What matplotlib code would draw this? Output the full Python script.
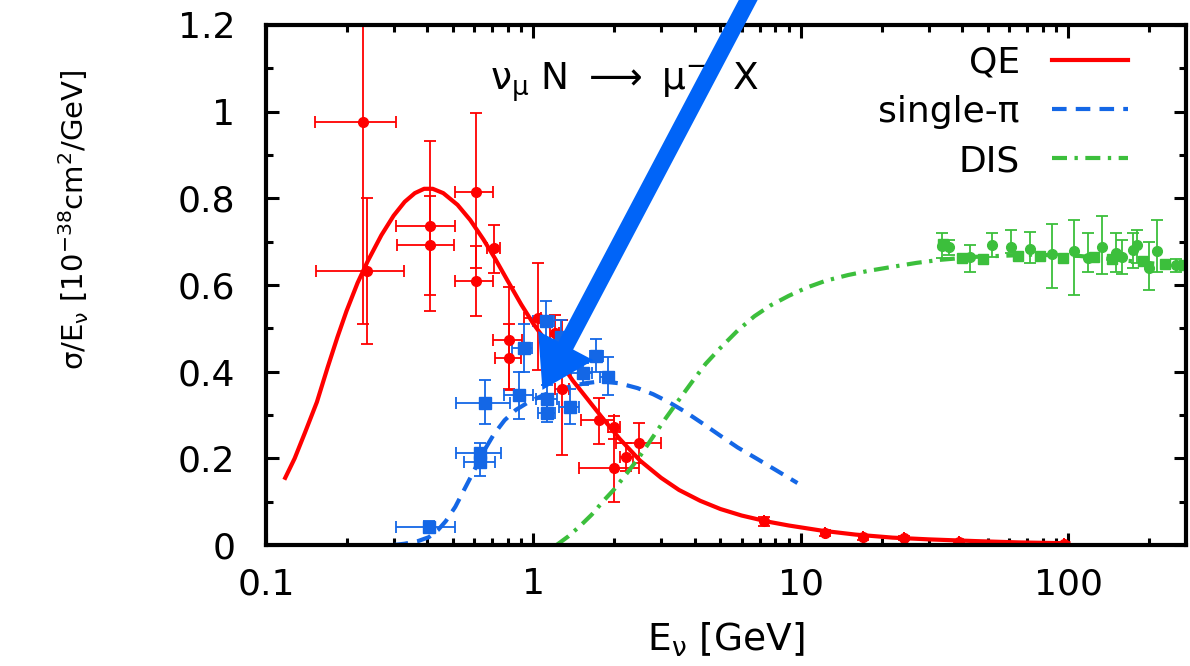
import numpy as np
import matplotlib
matplotlib.use("Agg")
import matplotlib.pyplot as plt
from matplotlib.ticker import MultipleLocator, LogLocator, NullFormatter

plt.rcParams['font.family'] = ['DejaVu Sans']
plt.rcParams['mathtext.default'] = 'regular'

red = '#ff0000'
blue = '#1467e6'
green = '#3cbf3c'
arrow_color = '#0064f8'

# QE calculation (solid red)
qe_x = [0.118, 0.128, 0.14, 0.155, 0.17, 0.185, 0.20, 0.22, 0.24, 0.27, 0.30, 0.33,
        0.36, 0.39, 0.42, 0.46, 0.52, 0.58, 0.65, 0.72, 0.80, 0.90, 1.0, 1.1, 1.25,
        1.4, 1.6, 1.8, 2.1, 2.5, 3.0, 3.5, 4.2, 5.0, 6.0, 7.5, 9.0, 12, 16, 22, 30,
        45, 65, 100]
qe_y = [0.155, 0.2, 0.26, 0.33, 0.41, 0.48, 0.54, 0.605, 0.655, 0.715, 0.76, 0.792,
        0.812, 0.822, 0.822, 0.812, 0.785, 0.75, 0.705, 0.66, 0.61, 0.555, 0.51, 0.475,
        0.425, 0.38, 0.335, 0.295, 0.245, 0.195, 0.155, 0.127, 0.102, 0.083, 0.068,
        0.054, 0.045, 0.033, 0.024, 0.017, 0.013, 0.009, 0.006, 0.004]

# single-pi calculation (dashed blue)
pi_x = [0.30, 0.33, 0.37, 0.406, 0.44, 0.47, 0.51, 0.55, 0.60, 0.65, 0.71, 0.78, 0.86,
        0.96, 1.1, 1.3, 1.55, 1.8, 2.1, 2.45, 2.8, 3.2, 3.7, 4.3, 5.0, 5.8, 6.8, 8.0, 9.7]
pi_y = [0.0, 0.003, 0.009, 0.018, 0.035, 0.055, 0.088, 0.127, 0.172, 0.215, 0.255, 0.288,
        0.312, 0.33, 0.347, 0.362, 0.373, 0.378, 0.373, 0.362, 0.348, 0.33, 0.307, 0.28,
        0.252, 0.225, 0.2, 0.174, 0.143]

# DIS calculation (dash-dot green)
dis_x = [1.22, 1.35, 1.5, 1.65, 1.84, 2.0, 2.25, 2.5, 2.8, 3.1, 3.45, 3.9, 4.4, 5.0,
         5.8, 6.7, 7.7, 9.0, 10.5, 12.4, 15, 18, 22, 27, 33, 45, 73, 110, 160, 275]
dis_y = [0.0, 0.02, 0.045, 0.07, 0.104, 0.128, 0.168, 0.205, 0.25, 0.29, 0.33, 0.375,
         0.418, 0.455, 0.495, 0.528, 0.553, 0.575, 0.594, 0.61, 0.623, 0.633, 0.642,
         0.651, 0.658, 0.665, 0.67, 0.667, 0.657, 0.642]

# QE data: x, y, x range, y range
qe_dx = [0.231, 0.239, 0.41, 0.41, 0.608, 0.608, 0.71, 0.807, 0.807, 1.04, 1.2, 1.28,
         1.75, 2.0, 2.0, 2.22, 2.48, 7.3, 12.3, 17.1, 24.2, 38.9, 96]
qe_dy = [0.976, 0.632, 0.736, 0.692, 0.815, 0.61, 0.685, 0.473, 0.432, 0.524, 0.489, 0.36,
         0.288, 0.272, 0.178, 0.203, 0.235, 0.055, 0.027, 0.018, 0.016, 0.008, 0.002]
qe_xlo = [0.153, 0.154, 0.306, 0.31, 0.508, 0.508, 0.67, 0.703, 0.72, 0.918, 1.15, 1.2,
          1.51, 1.9, 1.48, 2.1, 2.04, 7.3, 12.3, 17.1, 24.2, 38.9, 96]
qe_xhi = [0.306, 0.328, 0.508, 0.505, 0.703, 0.703, 0.75, 0.902, 0.9, 1.07, 1.25, 1.36,
          2.0, 2.1, 2.48, 2.35, 3.0, 7.3, 12.3, 17.1, 24.2, 38.9, 96]
qe_ylo = [0.51, 0.464, 0.54, 0.577, 0.64, 0.528, 0.628, 0.358, 0.36, 0.404, 0.45, 0.208,
          0.233, 0.245, 0.099, 0.17, 0.19, 0.045, 0.02, 0.012, 0.011, 0.004, 0.0]
qe_yhi = [1.30, 0.80, 0.932, 0.805, 0.997, 0.69, 0.738, 0.596, 0.51, 0.65, 0.53, 0.519,
          0.339, 0.298, 0.26, 0.235, 0.282, 0.065, 0.034, 0.024, 0.021, 0.012, 0.005]

# single-pi data
pi_dx = [0.406, 0.63, 0.63, 0.657, 0.88, 0.918, 1.11, 1.27, 1.12, 1.12, 1.37, 1.53, 1.72, 1.9]
pi_dy = [0.042, 0.212, 0.192, 0.328, 0.346, 0.455, 0.517, 0.48, 0.337, 0.305, 0.318, 0.397, 0.436, 0.388]
pi_xlo = [0.306, 0.513, 0.55, 0.513, 0.773, 0.83, 1.0, 1.19, 1.02, 1.04, 1.25, 1.38, 1.62, 1.78]
pi_xhi = [0.508, 0.753, 0.72, 0.82, 1.0, 0.99, 1.19, 1.36, 1.22, 1.2, 1.48, 1.65, 1.82, 2.0]
pi_ylo = [0.03, 0.19, 0.159, 0.279, 0.29, 0.40, 0.468, 0.44, 0.31, 0.285, 0.28, 0.37, 0.40, 0.346]
pi_yhi = [0.055, 0.235, 0.215, 0.381, 0.40, 0.51, 0.563, 0.52, 0.37, 0.325, 0.36, 0.42, 0.475, 0.434]

# DIS data (circles)
dis_dx = [33.6, 35.9, 42.8, 51.7, 60.8, 71.6, 87.1, 105, 118, 134, 151, 159, 174, 181, 200, 214, 253]
dis_dy = [0.69, 0.688, 0.665, 0.692, 0.688, 0.683, 0.672, 0.679, 0.662, 0.688, 0.674, 0.665,
          0.681, 0.692, 0.639, 0.679, 0.646]
dis_ylo = [0.662, 0.67, 0.63, 0.665, 0.674, 0.65, 0.593, 0.577, 0.63, 0.625, 0.63, 0.625,
           0.64, 0.65, 0.588, 0.63, 0.63]
dis_yhi = [0.72, 0.705, 0.692, 0.72, 0.727, 0.722, 0.74, 0.75, 0.72, 0.76, 0.72, 0.705,
           0.72, 0.727, 0.70, 0.75, 0.66]

# DIS data (squares)
dis2_dx = [34, 40, 48, 65, 78, 95, 125, 145, 190, 230, 270]
dis2_dy = [0.694, 0.663, 0.66, 0.667, 0.668, 0.662, 0.665, 0.66, 0.655, 0.648, 0.645]

xtick_vals = [0.1, 1, 10, 100]
xtick_labels = ['0.1', '1', '10', '100']
ytick_vals = [0, 0.2, 0.4, 0.6, 0.8, 1.0, 1.2]
ytick_labels = ['0', '0.2', '0.4', '0.6', '0.8', '1', '1.2']


def err(v, lo, hi):
    v = np.array(v); lo = np.array(lo); hi = np.array(hi)
    return [v - lo, hi - v]


fig = plt.figure(figsize=(11.9, 6.66), dpi=100)
ax = fig.add_axes([266 / 1190, 121 / 666, 920 / 1190, 520 / 666])

eb = dict(elinewidth=1.3, capthick=1.3, capsize=4.5, linestyle='none')
ax.errorbar(qe_dx, qe_dy, xerr=err(qe_dx, qe_xlo, qe_xhi), yerr=err(qe_dy, qe_ylo, qe_yhi),
            marker='o', ms=7, color=red, **eb)
ax.errorbar(pi_dx, pi_dy, xerr=err(pi_dx, pi_xlo, pi_xhi), yerr=err(pi_dy, pi_ylo, pi_yhi),
            marker='s', ms=8, color=blue, **eb)
ax.errorbar(dis_dx, dis_dy, yerr=err(dis_dy, dis_ylo, dis_yhi),
            marker='o', ms=7, color=green, **eb)
ax.plot(dis2_dx, dis2_dy, 's', ms=6.5, color=green)

l_qe, = ax.plot(qe_x, qe_y, color=red, lw=3, label='QE')
l_pi, = ax.plot(pi_x, pi_y, color=blue, lw=3, linestyle=(0, (3.5, 2.2)), label='single-π')
l_dis, = ax.plot(dis_x, dis_y, color=green, lw=3, linestyle=(0, (3.6, 1.8, 0.8, 1.8)), label='DIS')

ax.set_xscale('log')
ax.set_xlim(0.1, 275)
ax.set_ylim(0, 1.2)
ax.set_xticks(xtick_vals)
ax.set_xticklabels(xtick_labels)
ax.xaxis.set_minor_locator(LogLocator(base=10, subs=np.arange(2, 10)))
ax.xaxis.set_minor_formatter(NullFormatter())
ax.set_yticks(ytick_vals)
ax.set_yticklabels(ytick_labels)
ax.yaxis.set_minor_locator(MultipleLocator(0.1))

ax.tick_params(which='both', direction='in', top=True, right=True, width=2.2, labelsize=26)
ax.tick_params(which='major', length=9)
ax.tick_params(which='minor', length=5)
ax.tick_params(axis='x', pad=16)
ax.tick_params(axis='y', pad=22)
for s in ax.spines.values():
    s.set_linewidth(3)

ax.set_xlabel('E$_{ν}$ [GeV]', fontsize=27)
ax.xaxis.set_label_coords(0.5, -0.145)
ax.set_ylabel('σ/E$_{ν}$ [10$^{-38}$cm$^{2}$/GeV]', fontsize=21)
ax.yaxis.set_label_coords(-0.19, 0.625)

ax.text(0.2435, 0.875, r'ν$_{μ}$ N $\longrightarrow$ μ$^{-}$  X', transform=ax.transAxes,
        fontsize=27, va='baseline', ha='left')

ax.legend(handles=[l_qe, l_pi, l_dis], loc='upper right', bbox_to_anchor=(0.937, 0.96),
          markerfirst=False, frameon=False, fontsize=26, handlelength=2.1,
          handletextpad=0.9, labelspacing=0.42, borderpad=0, borderaxespad=0)

# big blue arrow pointing at the single-pi data
ax.annotate('', xy=(1.08, 0.358), xytext=(6.9, 1.30), xycoords='data', textcoords='data',
            annotation_clip=False, zorder=10,
            arrowprops=dict(arrowstyle='simple,head_length=1.2,head_width=1.5,tail_width=0.4',
                            mutation_scale=30, color=arrow_color, lw=0, shrinkA=0, shrinkB=0))

fig.savefig('out.png', dpi=100)
